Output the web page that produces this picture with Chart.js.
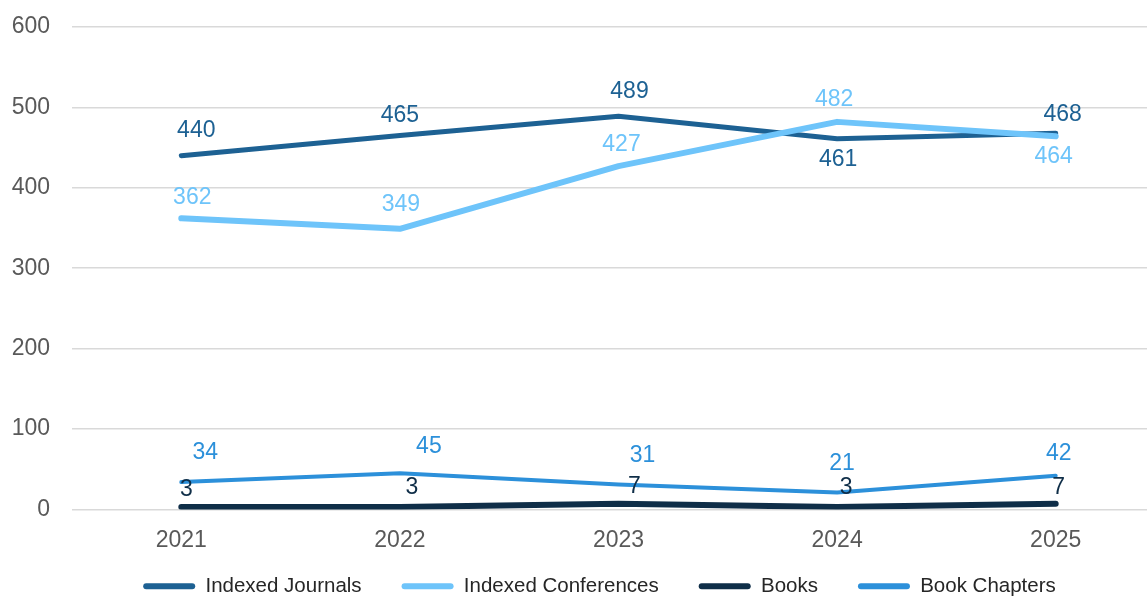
<!DOCTYPE html>
<html>
<head>
<meta charset="utf-8">
<script src="https://cdn.jsdelivr.net/npm/chart.js@4.4.0/dist/chart.umd.min.js"></script>
<style>
  html, body { margin: 0; padding: 0; background: #ffffff; overflow: hidden; }
  #wrap { width: 1166px; height: 596px; position: relative; }
</style>
</head>
<body>
<div id="wrap"><canvas id="chart"></canvas></div>
<script>
// Publication counts per year
const years = ['2021', '2022', '2023', '2024', '2025'];
const indexedJournals = [440, 465, 489, 461, 468];
const indexedConferences = [362, 349, 427, 482, 464];
const books = [3, 3, 7, 3, 7];
const bookChapters = [34, 45, 31, 21, 42];
const yTicks = [0, 100, 200, 300, 400, 500, 600];

// Value label placement relative to each point (px)
const labelOffsets = {
  journals:    [[15, -25], [0, -20], [11, -25], [1, 21], [7, -18]],
  conferences: [[11, -21], [1, -24], [3, -21], [-3, -22], [-2, 20]],
  books:       [[5, -17], [12, -19], [16, -17], [9, -19], [3, -16]],
  chapters:    [[24, -29], [29, -27], [24, -29], [5, -29], [3, -22]]
};

const FONT = '"Liberation Sans", Arial, sans-serif';
const LEGEND_HEIGHT = 25;
const LEGEND_SHIFT_Y = 35;
const LEGEND_SHIFT_X = 17;

function series(label, data, color, width, key, order) {
  return {
    label, data,
    borderColor: color,
    backgroundColor: color,
    borderWidth: width,
    borderCapStyle: 'round',
    borderJoinStyle: 'round',
    pointRadius: 0,
    pointHoverRadius: 0,
    tension: 0,
    fill: false,
    order,
    labelKey: key,
    labelColor: color
  };
}

// Draws the value next to every point of every series
const valueLabels = {
  id: 'valueLabels',
  afterDatasetsDraw(chart) {
    const ctx = chart.ctx;
    ctx.save();
    ctx.font = '23px ' + FONT;
    ctx.textAlign = 'center';
    ctx.textBaseline = 'middle';
    chart.data.datasets.forEach((ds, i) => {
      const meta = chart.getDatasetMeta(i);
      const offs = labelOffsets[ds.labelKey];
      ctx.fillStyle = ds.labelColor;
      meta.data.forEach((pt, j) => {
        const o = offs[j];
        ctx.fillText(String(ds.data[j]), pt.x + o[0], pt.y + o[1]);
      });
    });
    ctx.restore();
  }
};

// Keeps the wide item spacing of the legend while limiting the room it takes
const compactLegend = {
  id: 'compactLegend',
  beforeLayout(chart) {
    const legend = chart.legend;
    if (legend && !legend._compact) {
      const fit = legend.fit;
      legend.fit = function () {
        fit.call(this);
        this.height = LEGEND_HEIGHT;
      };
      const draw = legend.draw;
      legend.draw = function () {
        const { top, left, right } = this;
        this.top = top - LEGEND_SHIFT_Y;
        this.left = left + LEGEND_SHIFT_X;
        this.right = right + LEGEND_SHIFT_X;
        draw.call(this);
        this.top = top;
        this.left = left;
        this.right = right;
      };
      legend._compact = true;
    }
  }
};

new Chart(document.getElementById('chart'), {
  type: 'line',
  data: {
    labels: years,
    datasets: [
      series('Indexed Journals', indexedJournals, '#1d6193', 5, 'journals', 4),
      series('Indexed Conferences', indexedConferences, '#6ec4fa', 6, 'conferences', 3),
      series('Books', books, '#0f2e48', 6, 'books', 2),
      series('Book Chapters', bookChapters, '#2c90da', 4, 'chapters', 1)
    ]
  },
  options: {
    responsive: true,
    maintainAspectRatio: false,
    animation: false,
    layout: { padding: { top: 27, right: 1, left: 0, bottom: 0 } },
    plugins: {
      tooltip: { enabled: false },
      legend: {
        position: 'bottom',
        labels: {
          font: { family: FONT, size: 20.5 },
          color: '#262626',
          boxWidth: 52,
          boxHeight: 6,
          useBorderRadius: true,
          borderRadius: 3,
          padding: 40,
          sort: (a, b) => a.datasetIndex - b.datasetIndex,
          generateLabels(chart) {
            const items = Chart.defaults.plugins.legend.labels.generateLabels(chart);
            items.forEach(it => { it.lineWidth = 0; });
            return items;
          }
        }
      }
    },
    scales: {
      x: {
        offset: true,
        grid: { display: false, drawTicks: false },
        border: { display: false },
        ticks: { font: { family: FONT, size: 23 }, color: '#595959', padding: 17 }
      },
      y: {
        min: 0,
        max: 600,
        afterBuildTicks(scale) { scale.ticks = yTicks.map(v => ({ value: v })); },
        afterFit(scale) {
          scale.width = 72;
          scale.paddingTop = 0;
          scale.paddingBottom = 0;
        },
        grid: { color: '#d9d9d9', lineWidth: 1.5, drawTicks: false },
        border: { display: false },
        ticks: { font: { family: FONT, size: 23 }, color: '#595959', padding: 22 }
      }
    }
  },
  plugins: [valueLabels, compactLegend]
});
</script>
</body>
</html>
